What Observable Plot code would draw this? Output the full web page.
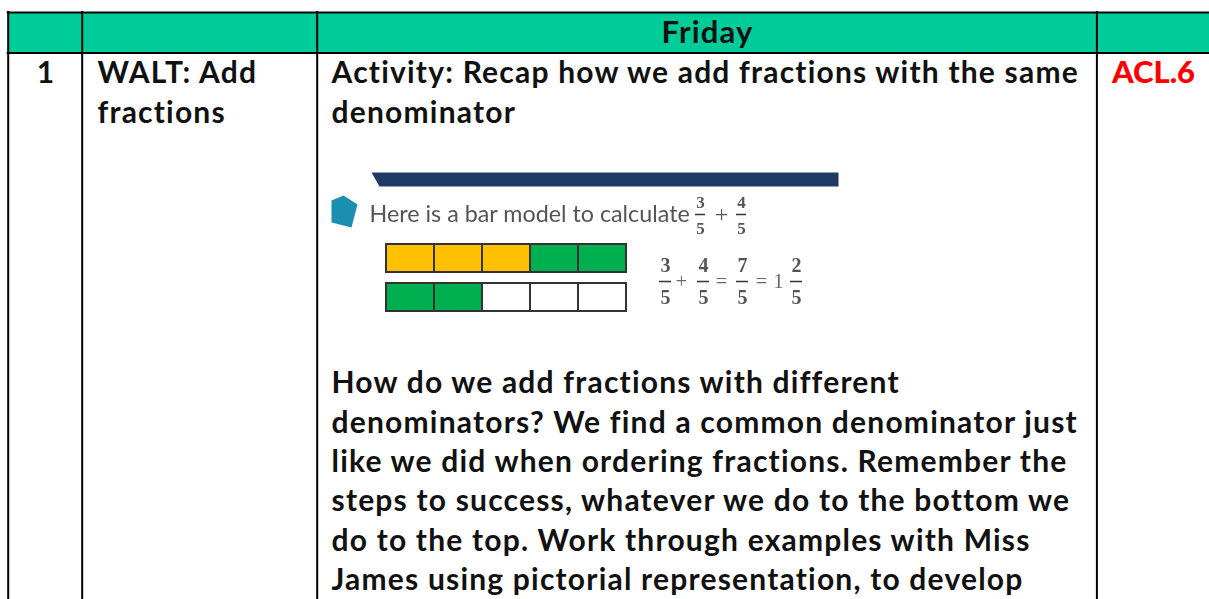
<!DOCTYPE html>
<html>
<head>
<meta charset="utf-8">
<script src="https://cdn.jsdelivr.net/npm/d3@7"></script>
<script src="https://cdn.jsdelivr.net/npm/@observablehq/plot@0.6"></script>
<style>
html,body{margin:0;padding:0;background:#fff;overflow:hidden}
svg{display:block}
</style>
</head>
<body>
<div id="chart"></div>
<script>
// ---- content ----
const dayLabel = ["Friday"];
const lessonNumber = ["1"];
const objectiveLines = ["WALT: Add", "fractions"];
const introLines = ["Activity: Recap how we add fractions with the same", "denominator"];
const bodyLines = [
  "How do we add fractions with different",
  "denominators? We find a common denominator just",
  "like we did when ordering fractions. Remember the",
  "steps to success, whatever we do to the bottom we",
  "do to the top. Work through examples with Miss",
  "James using pictorial representation, to develop"
];
const standardLabel = ["ACL.6"];
const promptText = ["Here is a bar model to calculate"];
const topBarFifths = ["yellow", "yellow", "yellow", "green", "green"];
const bottomBarFifths = ["green", "green", "empty", "empty", "empty"];
const promptFractions = [["3", "5"], ["4", "5"]];
const workedTerms = [["3", "5"], ["4", "5"], ["7", "5"], ["2", "5"]];
const workedOperators = ["+", "=", "=", "1"];

// ---- layout (page geometry, separate from content) ----
const W = 1209, H = 599;
const left = 7.7, top_ = 12, headerBottom = 52.4;
const colEdges = [left, 81.7, 316.7, 1096.4];
const lineStep = 39.4, firstLine = 73, bodyStart = 383;
const cursive = "Lato, 'Noto Sans', sans-serif";
const serif = "'Liberation Serif', serif";
const ink = "#111";
const swatch = {yellow: "#ffc000", green: "#00b050", empty: "#ffffff"};
const cellW = 48, barX = 386, barH = 28, barTop = [244, 283];
const promptFracX = [700, 741], workedFracX = [665, 703, 742, 796], workedOpX = [681, 721, 761, 778];

// styling hooks applied to the rendered mark group
const styled = css => ({
  render(index, scales, values, dims, context, next) {
    const g = next(index, scales, values, dims, context);
    Object.assign(g.style, css);
    return g;
  }
});
const photo = styled({filter: "blur(0.6px)"});
const spaced = styled({letterSpacing: "1.2px"});

const bars = [topBarFifths, bottomBarFifths].flatMap((row, r) =>
  row.map((c, i) => ({x1: barX + i * cellW, x2: barX + (i + 1) * cellW, y1: barTop[r], y2: barTop[r] + barH, fill: swatch[c]})));

const fracMarks = (xs, terms, yNum, yDen, yBar, half, size) => [
  Plot.text(terms, {x: (d, i) => xs[i], y: () => yNum, text: d => d[0], fontFamily: serif, fontSize: size, fontWeight: 700, fill: "#555", ...photo}),
  Plot.text(terms, {x: (d, i) => xs[i], y: () => yDen, text: d => d[1], fontFamily: serif, fontSize: size, fontWeight: 700, fill: "#555", ...photo}),
  Plot.ruleY(terms, {x1: (d, i) => xs[i] - half, x2: (d, i) => xs[i] + half, y: () => yBar, stroke: "#333", strokeWidth: 1.5, ...photo})
];

const textLines = (lines, x, yOf) =>
  Plot.text(lines, {x: () => x, y: (d, i) => yOf(i), text: d => d, textAnchor: "start", fontFamily: cursive, fontWeight: 700, fontSize: 30, fill: ink, ...spaced});

const chart = Plot.plot({
  width: W, height: H, margin: 0,
  x: {domain: [0, W], range: [0, W], axis: null},
  y: {domain: [0, H], range: [0, H], axis: null},
  marks: [
    Plot.rect([{}], {x1: () => left, x2: () => W, y1: () => top_, y2: () => headerBottom, fill: "#00cc99"}),
    Plot.ruleY([top_, headerBottom], {x1: () => left - 1, x2: () => W, stroke: "#000", strokeWidth: 2}),
    Plot.ruleX(colEdges, {y1: () => top_ - 1, y2: () => H, stroke: "#000", strokeWidth: 2}),

    Plot.text(dayLabel, {x: () => 707, y: () => 33, text: d => d, fontFamily: cursive, fontWeight: 700, fontSize: 31, fill: ink, ...spaced}),
    Plot.text(lessonNumber, {x: () => 45, y: () => 73, text: d => d, fontFamily: cursive, fontWeight: 700, fontSize: 30, fill: ink}),
    textLines(objectiveLines, 97, i => firstLine + i * lineStep),
    textLines(introLines, 331, i => firstLine + i * lineStep),
    textLines(bodyLines, 331, i => bodyStart + i * lineStep),
    Plot.text(standardLabel, {x: () => 1153, y: () => 73, text: d => d, fontFamily: "Lato, sans-serif", fontWeight: 900, fontSize: 31, fill: "#ff0000"}),

    // embedded picture
    Plot.line([[371, 172], [838, 172], [838, 186], [379, 186]], {x: d => d[0], y: d => d[1], fill: "#1f3a64", stroke: "none", ...photo}),
    Plot.line([[331, 200], [343, 195], [357, 204], [351, 227], [331, 222]], {x: d => d[0], y: d => d[1], fill: "#1a8fb0", stroke: "none", ...photo}),
    Plot.text(promptText, {x: () => 369, y: () => 214, text: d => d, textAnchor: "start", fontFamily: "Lato, sans-serif", fontSize: 23.3, fill: "#555", ...photo}),
    ...fracMarks(promptFracX, promptFractions, 202, 228, 214, 5, 17),
    Plot.text(["+"], {x: () => 721, y: () => 214, text: d => d, fontFamily: serif, fontSize: 24, fill: "#555", ...photo}),
    Plot.rect(bars, {x1: "x1", x2: "x2", y1: "y1", y2: "y2", fill: "fill", stroke: "#333", strokeWidth: 2, ...photo}),
    ...fracMarks(workedFracX, workedTerms, 265, 297, 281, 6, 20),
    Plot.text(workedOperators, {x: (d, i) => workedOpX[i], y: () => 281, text: d => d, fontFamily: serif, fontSize: 20, fill: "#666", ...photo})
  ]
});
document.getElementById("chart").append(chart);
</script>
</body>
</html>
